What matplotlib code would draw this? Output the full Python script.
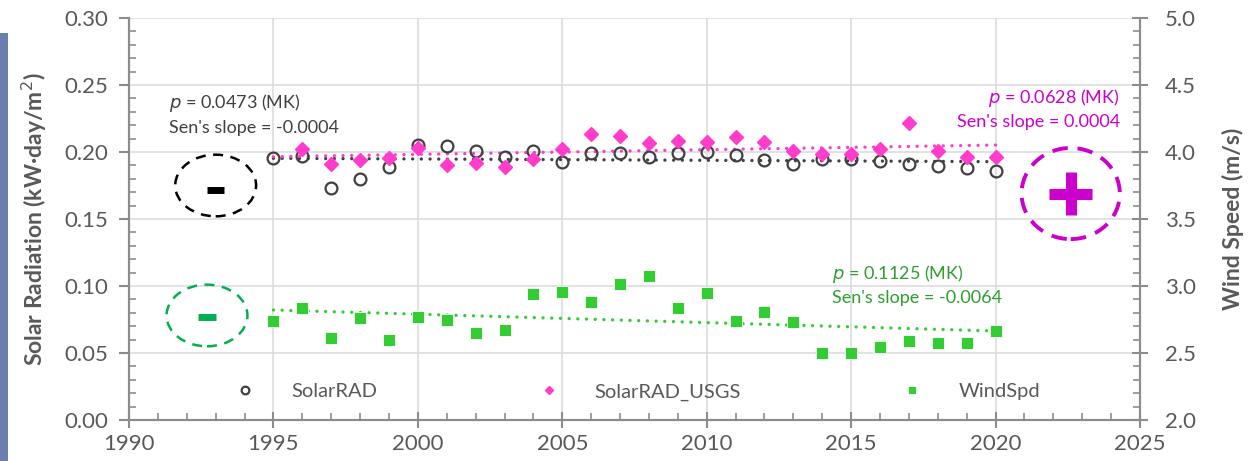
import numpy as np
import matplotlib
matplotlib.use("Agg")
import matplotlib.pyplot as plt
from matplotlib.patches import Ellipse, Rectangle
from matplotlib.ticker import MultipleLocator

plt.rcParams['font.family'] = ['Lato', 'DejaVu Sans']

years = list(range(1995, 2021))

# SolarRAD (kW·day/m²)
solar_rad = [0.1953, 0.1970, 0.1734, 0.1798, 0.1886, 0.2052, 0.2045, 0.2010, 0.1965,
             0.2010, 0.1923, 0.1995, 0.1995, 0.1960, 0.1995, 0.2002, 0.1978, 0.1940,
             0.1910, 0.1948, 0.1948, 0.1933, 0.1910, 0.1895, 0.1878, 0.1860]

# SolarRAD_USGS (no value for 1995)
solar_usgs = [np.nan, 0.2020, 0.1910, 0.1940, 0.1953, 0.2027, 0.1903, 0.1915, 0.1886,
              0.1945, 0.2022, 0.2132, 0.2120, 0.2065, 0.2085, 0.2072, 0.2110, 0.2072,
              0.2007, 0.1985, 0.1985, 0.2020, 0.2214, 0.2010, 0.1965, 0.1965]

# WindSpd (m/s)
wind_spd = [2.739, 2.833, 2.614, 2.759, 2.597, 2.766, 2.746, 2.652, 2.672, 2.940,
            2.957, 2.883, 3.015, 3.075, 2.833, 2.950, 2.739, 2.808, 2.729, 2.502,
            2.502, 2.547, 2.590, 2.577, 2.577, 2.664]

# trend line end points (1995, 2020)
trend_years = [1995, 2020]
trend_rad = [0.1953, 0.1928]
trend_usgs = [0.1965, 0.2052]
trend_wind = [2.821, 2.664]

gray_txt = '#595959'
grid_c = '#DDDDDD'
spine_c = '#8C8C8C'
mag = '#FF3CCC'
mag_dark = '#CC00CC'
green = '#33CC33'
green_txt = '#2E9E2E'

fig = plt.figure(figsize=(12.55, 4.61), dpi=100)
fig.patches.append(Rectangle((0, 0), 8 / 1255, 428 / 461, transform=fig.transFigure,
                             facecolor='#6B7FAF', edgecolor='none'))
ax = fig.add_axes([129 / 1255, 41 / 461, 1011 / 1255, 402 / 461])
ax2 = ax.twinx()

dot = (0, (0.01, 2.6))
ax.plot(trend_years, trend_rad, color='#404040', lw=2.4, ls=dot, dash_capstyle='round', zorder=3)
ax.plot(trend_years, trend_usgs, color=mag, lw=2.4, ls=dot, dash_capstyle='round', zorder=3)
ax2.plot(trend_years, trend_wind, color=green, lw=2.4, ls=dot, dash_capstyle='round', zorder=3)

h1, = ax.plot(years, solar_rad, 'o', ms=8.5, mfc='none', mec='#404040', mew=1.6,
              label='SolarRAD', zorder=4)
h2, = ax.plot(years, solar_usgs, 'D', ms=7, mfc=mag, mec=mag, label='SolarRAD_USGS', zorder=4)
h3, = ax2.plot(years, wind_spd, 's', ms=8.5, mfc=green, mec='white', mew=0.6,
               label='WindSpd', zorder=4)

ax.set_xlim(1990, 2025)
ax.set_ylim(0, 0.30)
ax2.set_ylim(2.0, 5.0)
ax.xaxis.set_major_locator(MultipleLocator(5))
ax.xaxis.set_minor_locator(MultipleLocator(1))
ax.yaxis.set_major_locator(MultipleLocator(0.05))
ax.yaxis.set_minor_locator(MultipleLocator(0.01))
ax2.yaxis.set_major_locator(MultipleLocator(0.5))
ax2.yaxis.set_minor_locator(MultipleLocator(0.1))
ax.yaxis.set_major_formatter(plt.FormatStrFormatter('%.2f'))
ax2.yaxis.set_major_formatter(plt.FormatStrFormatter('%.1f'))

ax.grid(True, which='major', color=grid_c, lw=1.2)
ax.set_axisbelow(True)
for a in (ax, ax2):
    for s in a.spines.values():
        s.set_color(spine_c)
        s.set_linewidth(1.5)
    a.spines['top'].set_visible(False)
ax.tick_params(axis='y', which='major', direction='out', length=7, width=1.5, color=spine_c,
               labelsize=16, labelcolor=gray_txt, pad=8)
ax.tick_params(axis='x', which='major', direction='inout', length=12, width=1.5, color=spine_c,
               labelsize=16, labelcolor=gray_txt, pad=4)
ax.tick_params(which='minor', direction='in', length=5, width=1.2, color=spine_c)
ax2.tick_params(which='major', direction='inout', length=12, width=1.5, color=spine_c,
                labelsize=16, labelcolor=gray_txt, pad=12)
ax2.tick_params(which='minor', direction='in', length=5, width=1.2, color=spine_c)

ax.set_ylabel('Solar Radiation (kW·day/m$^2$)', fontsize=16.5, fontweight='bold',
              color=gray_txt, labelpad=11)
ax2.set_ylabel('Wind Speed (m/s)', fontsize=16.5, fontweight='bold', color=gray_txt,
               labelpad=19)

# annotations
ax.text(1991.37, 0.2366, '$\\it{p}$ = 0.0473 (MK)', fontsize=13, color='#404040', va='center')
ax.text(1991.37, 0.2179, "Sen's slope = -0.0004", fontsize=13, color='#404040', va='center')
ax.text(2024.3, 0.2403, '$\\it{p}$ = 0.0628 (MK)', fontsize=13, color=mag_dark, ha='right',
        va='center')
ax.text(2024.3, 0.2224, "Sen's slope = 0.0004", fontsize=13, color=mag_dark, ha='right',
        va='center')
ax.text(2014.34, 0.109, '$\\it{p}$ = 0.1125 (MK)', fontsize=13, color=green_txt, va='center')
ax.text(2014.34, 0.091, "Sen's slope = -0.0064", fontsize=13, color=green_txt, va='center')

ax.add_patch(Ellipse((1993.0, 0.175), 2.8, 0.046, fill=False, ec='black', lw=1.8,
                     ls=(0, (4, 3)), zorder=5))
ax.plot([1992.7, 1993.3], [0.172, 0.172], color='black', lw=5, solid_capstyle='butt', zorder=5)
ax.add_patch(Ellipse((1992.7, 0.078), 2.8, 0.046, fill=False, ec='#00B050', lw=1.8,
                     ls=(0, (4, 3)), zorder=5))
ax.plot([1992.4, 1993.0], [0.077, 0.077], color='#00B050', lw=5, solid_capstyle='butt', zorder=5)
ax.add_patch(Ellipse((2022.6, 0.169), 3.4, 0.068, fill=False, ec=mag_dark, lw=2.8,
                     ls=(0, (4, 2.5)), zorder=5, clip_on=False))
ax.plot([2021.85, 2023.35], [0.169, 0.169], color=mag_dark, lw=8, solid_capstyle='butt',
        zorder=5, clip_on=False)
ax.plot([2022.6, 2022.6], [0.153, 0.185], color=mag_dark, lw=8, solid_capstyle='butt',
        zorder=5, clip_on=False)

leg = ax.legend(handles=[h1, h2, h3], loc='center left', bbox_to_anchor=(0.1048, 0.0697),
                ncol=3, frameon=False, fontsize=14.5, handlelength=1.0, handletextpad=1.8,
                columnspacing=8.0, borderpad=0, borderaxespad=0, markerscale=0.65,
                labelcolor=gray_txt)

fig.savefig('out.png', dpi=100)
